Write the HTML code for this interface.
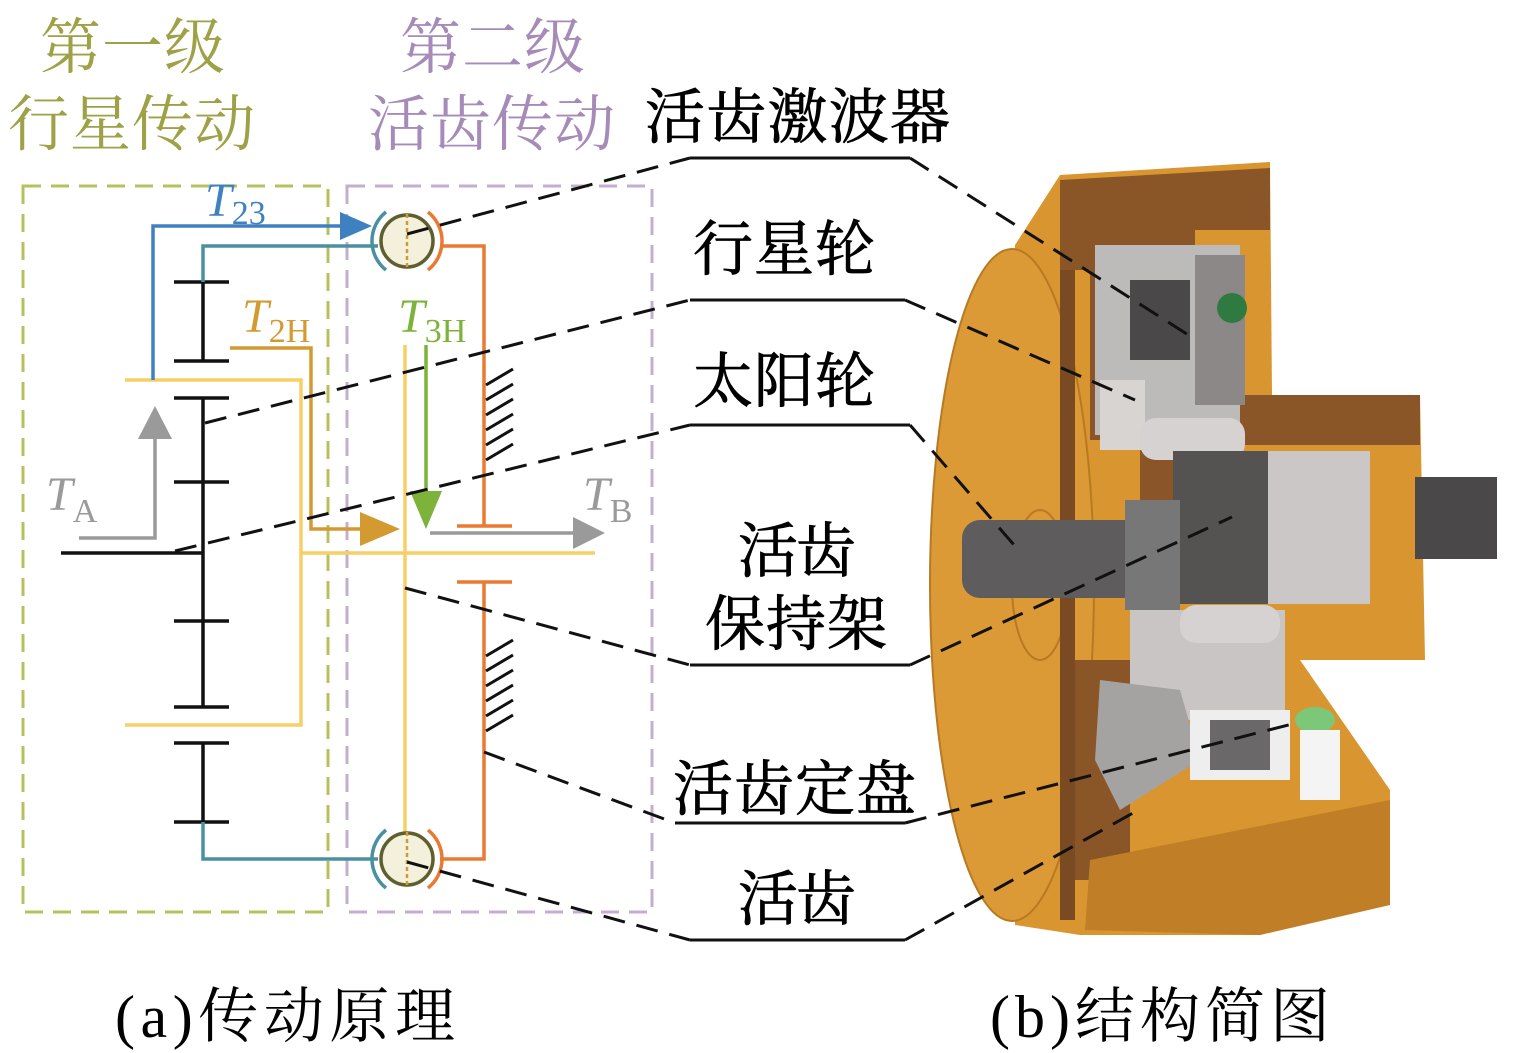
<!DOCTYPE html>
<html><head><meta charset="utf-8"><style>
html,body{margin:0;padding:0;background:#fff}
svg{display:block}
text{font-family:"Liberation Serif","Noto Serif CJK SC","Noto Sans CJK SC",serif}
</style></head><body>
<svg width="1513" height="1053" viewBox="0 0 1513 1053" xmlns="http://www.w3.org/2000/svg">
<text x="40" y="68" font-size="61" fill="#9ea146" textLength="185">第一级</text>
<text x="8" y="145" font-size="61" fill="#9ea146" textLength="247">行星传动</text>
<text x="400" y="68" font-size="61" fill="#a68bb8" textLength="185">第二级</text>
<text x="368" y="145" font-size="61" fill="#a68bb8" textLength="247">活齿传动</text>
<g font-size="60" fill="#000" stroke="#000" stroke-width="0.8">
<text x="645" y="138" textLength="305">活齿激波器</text>
<text x="693" y="270" textLength="182">行星轮</text>
<text x="693" y="402" textLength="182">太阳轮</text>
<text x="738" y="572" textLength="118">活齿</text>
<text x="705" y="645" textLength="182">保持架</text>
<text x="673" y="810" textLength="243">活齿定盘</text>
<text x="738" y="920" textLength="118">活齿</text>
</g>
<text x="115" y="1037" font-size="60" textLength="340">(a)传动原理</text>
<text x="990" y="1037" font-size="60" textLength="340">(b)结构简图</text>

<rect x="23" y="186" width="305" height="726" fill="none" stroke="#b6c05c" stroke-width="3" stroke-dasharray="18,10"/>
<rect x="347" y="186" width="305" height="726" fill="none" stroke="#c4aed0" stroke-width="3" stroke-dasharray="18,10"/>

<g stroke="#111" stroke-width="3.5" fill="none">
<line x1="203" y1="282" x2="203" y2="361"/>
<line x1="203" y1="398" x2="203" y2="707"/>
<line x1="203" y1="743" x2="203" y2="822"/>
<line x1="174" y1="282" x2="229" y2="282"/>
<line x1="174" y1="361" x2="229" y2="361"/>
<line x1="174" y1="398" x2="229" y2="398"/>
<line x1="174" y1="482" x2="229" y2="482"/>
<line x1="174" y1="621" x2="229" y2="621"/>
<line x1="174" y1="707" x2="229" y2="707"/>
<line x1="174" y1="743" x2="229" y2="743"/>
<line x1="174" y1="822" x2="229" y2="822"/>
<line x1="61" y1="553" x2="203" y2="553"/>
</g>
<polyline points="203,282 203,246 378,246" fill="none" stroke="#4a90a0" stroke-width="3.5"/>
<polyline points="203,822 203,859 378,859" fill="none" stroke="#4a90a0" stroke-width="3.5"/>
<g stroke="#f8cf66" stroke-width="3.5" fill="none">
<polyline points="125,380 301,380 301,725 125,725"/>
<line x1="301" y1="553" x2="595" y2="553"/>
<line x1="405" y1="345" x2="405" y2="836"/>
</g>
<polyline points="153,380 153,226 345,226" fill="none" stroke="#3f80c0" stroke-width="3.5"/>
<polygon points="340,212 372,226 340,240" fill="#3f80c0"/>
<polyline points="230,348 311,348 311,529 365,529" fill="none" stroke="#d39a32" stroke-width="3.5"/>
<polygon points="360,512 400,529 360,546" fill="#d39a32"/>
<line x1="426" y1="345" x2="426" y2="495" stroke="#7db33a" stroke-width="3.5"/>
<polygon points="410,491 442,491 426,529" fill="#7db33a"/>
<polyline points="79,538 155,538 155,435" fill="none" stroke="#9a9a9a" stroke-width="3.5"/>
<polygon points="138,439 172,439 155,406" fill="#9a9a9a"/>
<line x1="430" y1="533" x2="578" y2="533" stroke="#9a9a9a" stroke-width="3.5"/>
<polygon points="573,517 605,533 573,549" fill="#9a9a9a"/>
<g stroke="#ea7a32" stroke-width="3.5" fill="none">
<polyline points="440,246 484,246 484,526"/>
<line x1="457" y1="526" x2="512" y2="526"/>
<line x1="457" y1="582" x2="512" y2="582"/>
<polyline points="484,582 484,859 440,859"/>
</g>
<g stroke="#111" stroke-width="3">
<line x1="486" y1="385" x2="513" y2="369"/><line x1="486" y1="400" x2="513" y2="384"/><line x1="486" y1="415" x2="513" y2="399"/><line x1="486" y1="430" x2="513" y2="414"/><line x1="486" y1="445" x2="513" y2="429"/><line x1="486" y1="460" x2="513" y2="444"/>
<line x1="486" y1="656" x2="513" y2="640"/><line x1="486" y1="671" x2="513" y2="655"/><line x1="486" y1="686" x2="513" y2="670"/><line x1="486" y1="701" x2="513" y2="685"/><line x1="486" y1="716" x2="513" y2="700"/><line x1="486" y1="731" x2="513" y2="715"/>
</g>
<g>
<circle cx="407" cy="241" r="26" fill="#f3f0dc" stroke="#5e5e2e" stroke-width="3.5"/>
<line x1="407" y1="214" x2="407" y2="268" stroke="#d39a32" stroke-width="2.5" stroke-dasharray="4,3"/>
<path d="M386,212 A37,37 0 0 0 386,270" fill="none" stroke="#4a90a0" stroke-width="3.5"/>
<path d="M428,212 A37,37 0 0 1 428,270" fill="none" stroke="#ea7a32" stroke-width="3.5"/>
<circle cx="407" cy="859" r="26" fill="#f3f0dc" stroke="#5e5e2e" stroke-width="3.5"/>
<line x1="407" y1="832" x2="407" y2="886" stroke="#d39a32" stroke-width="2.5" stroke-dasharray="4,3"/>
<path d="M386,830 A37,37 0 0 0 386,888" fill="none" stroke="#4a90a0" stroke-width="3.5"/>
<path d="M428,830 A37,37 0 0 1 428,888" fill="none" stroke="#ea7a32" stroke-width="3.5"/>
</g>
<g font-style="italic" font-size="48">
<text x="205" y="216" fill="#3f80c0">T<tspan font-style="normal" font-size="34" dy="8">23</tspan></text>
<text x="242" y="332" fill="#d39a32">T<tspan font-style="normal" font-size="34" dy="10">2H</tspan></text>
<text x="398" y="332" fill="#7db33a">T<tspan font-style="normal" font-size="34" dy="10">3H</tspan></text>
<text x="46" y="510" fill="#9a9a9a">T<tspan font-style="normal" font-size="34" dy="12">A</tspan></text>
<text x="583" y="510" fill="#9a9a9a">T<tspan font-style="normal" font-size="34" dy="12">B</tspan></text>
</g>

<g>
<path d="M1015,245 L1060,175 L1270,162 L1272,395 L1420,395 L1425,660 L1300,660 L1390,790 L1390,900 L1260,935 L1080,935 L1015,925 Z" fill="#d99530"/>
<ellipse cx="1012" cy="585" rx="82" ry="336" fill="#dc9a36" stroke="#b77a22" stroke-width="2"/>
<ellipse cx="1040" cy="585" rx="28" ry="75" fill="none" stroke="#b77a22" stroke-width="2"/>
<path d="M1060,262 L1075,262 L1075,920 L1060,920 Z" fill="#7a4a22"/>
<path d="M1060,180 L1270,168 L1270,230 L1195,230 L1195,585 L1140,585 L1140,440 L1090,440 L1090,270 L1060,270 Z" fill="#8a5628"/>
<path d="M1195,395 L1420,395 L1420,445 L1195,445 Z" fill="#8a5628"/>
<path d="M1075,660 L1130,660 L1130,880 L1075,880 Z" fill="#8a5628"/>
<path d="M1090,860 L1390,800 L1390,905 L1260,935 L1085,930 Z" fill="#c07e26"/>
<rect x="1095" y="245" width="145" height="190" fill="#bdbaba"/>
<rect x="1130" y="280" width="60" height="80" fill="#4a4848"/>
<rect x="1195" y="255" width="50" height="150" fill="#8c8888"/>
<circle cx="1232" cy="308" r="15" fill="#2e7a40"/>
<rect x="1100" y="380" width="45" height="70" fill="#d8d4d2"/>
<rect x="1140" y="418" width="105" height="42" rx="16" fill="#d6d2d2"/>
<rect x="1173" y="451" width="204" height="153" fill="#cbc7c6"/>
<rect x="1173" y="451" width="95" height="153" fill="#555252"/>
<rect x="1370" y="450" width="50" height="160" fill="#d99530"/>
<rect x="1415" y="477" width="82" height="82" fill="#4a4848"/>
<rect x="962" y="520" width="190" height="78" rx="18" fill="#5e5c5c"/>
<rect x="1125" y="500" width="55" height="110" fill="#777"/>
<rect x="1130" y="610" width="155" height="110" fill="#c9c5c4"/>
<rect x="1180" y="605" width="100" height="38" rx="16" fill="#d6d2d2"/>
<path d="M1100,680 L1180,690 L1200,760 L1120,810 L1095,760 Z" fill="#a5a2a2"/>
<rect x="1190" y="710" width="100" height="70" fill="#eeeeee"/>
<rect x="1210" y="720" width="60" height="50" fill="#6a6868"/>
<ellipse cx="1315" cy="720" rx="20" ry="13" fill="#7cc878"/>
<rect x="1300" y="730" width="40" height="70" fill="#f4f4f4"/>
</g>

<g stroke="#111" stroke-width="3" fill="none">
<line x1="690" y1="158" x2="910" y2="158"/>
<line x1="690" y1="300" x2="905" y2="300"/>
<line x1="690" y1="425" x2="910" y2="425"/>
<line x1="690" y1="665" x2="910" y2="665"/>
<line x1="675" y1="823" x2="905" y2="823"/>
<line x1="690" y1="940" x2="905" y2="940"/>
</g>
<g stroke="#111" stroke-width="3" fill="none" stroke-dasharray="22,12">
<line x1="407" y1="234" x2="690" y2="158"/>
<line x1="205" y1="423" x2="690" y2="300"/>
<line x1="175" y1="551" x2="690" y2="425"/>
<line x1="405" y1="588" x2="690" y2="665"/>
<line x1="484" y1="752" x2="675" y2="823"/>
<line x1="407" y1="862" x2="690" y2="940"/>
<line x1="910" y1="158" x2="1190" y2="336"/>
<line x1="905" y1="300" x2="1135" y2="400"/>
<line x1="910" y1="425" x2="1021" y2="553"/>
<line x1="910" y1="665" x2="1232" y2="517"/>
<line x1="905" y1="823" x2="1300" y2="722"/>
<line x1="905" y1="940" x2="1142" y2="808"/>
</g>
</svg>
</body></html>
